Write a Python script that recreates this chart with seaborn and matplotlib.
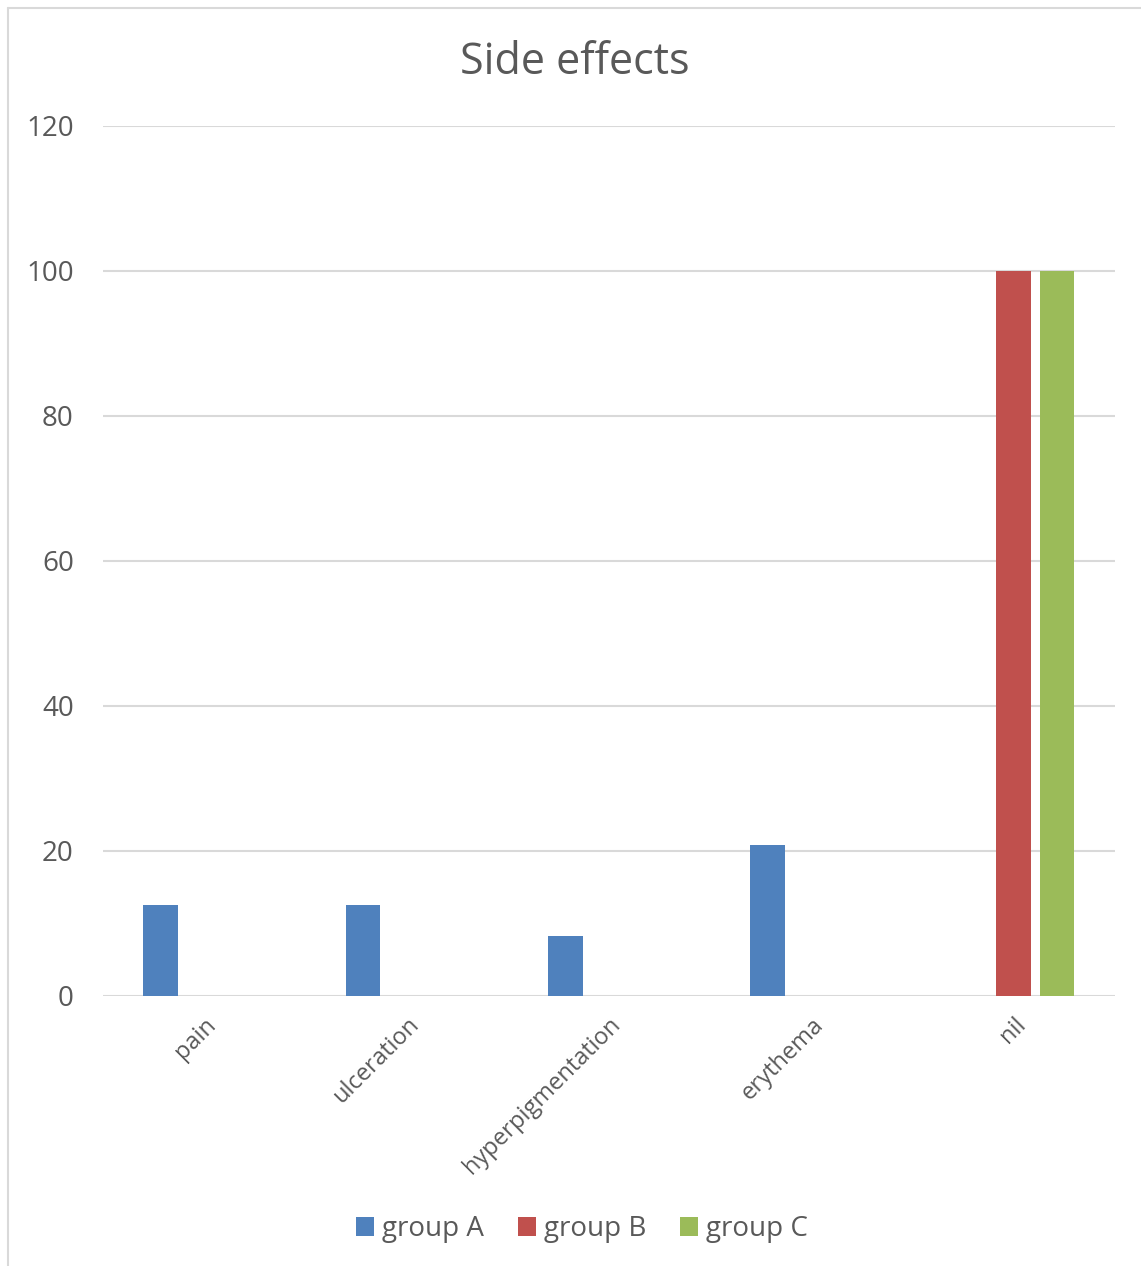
import matplotlib
matplotlib.use("Agg")
import matplotlib.pyplot as plt
from matplotlib.lines import Line2D
import seaborn as sns
import pandas as pd

categories = ["pain", "ulceration", "hyperpigmentation", "erythema", "nil"]
groups = ["group A", "group B", "group C"]
group_a = [12.5, 12.5, 8.33, 20.83, 0]
group_b = [0, 0, 0, 0, 100]
group_c = [0, 0, 0, 0, 100]
y_ticks = [0, 20, 40, 60, 80, 100, 120]
colors = ["#4f81bd", "#c0504d", "#9bbb59"]

rows = []
for g, vals in zip(groups, [group_a, group_b, group_c]):
    for c, v in zip(categories, vals):
        rows.append({"category": c, "group": g, "value": v})
df = pd.DataFrame(rows)

sns.set_theme(style="white")
plt.rcParams["font.family"] = ["Open Sans", "DejaVu Sans"]
text_color = "#595959"
grid_color = "#d9d9d9"

fig = plt.figure(figsize=(11.41, 12.66), dpi=100)
ax = fig.add_axes([0.0903, 0.2133, 0.8867, 0.6872])

sns.barplot(data=df, x="category", y="value", hue="group", order=categories,
            hue_order=groups, palette=colors, saturation=1, width=0.645, gap=0.2,
            linewidth=0, errorbar=None, ax=ax, legend=True)

ax.set_ylim(0, 120)
ax.set_xlim(-0.5, len(categories) - 0.5)
ax.set_yticks(y_ticks)
ax.set_yticklabels([str(t) for t in y_ticks], fontsize=20, color=text_color)
ax.tick_params(axis="y", length=0, pad=21)
ax.tick_params(axis="x", length=0, pad=12)
for lab in ax.get_xticklabels():
    lab.set_rotation(45)
    lab.set_ha("right")
    lab.set_rotation_mode("anchor")
    lab.set_fontsize(17)
    lab.set_color(text_color)
ax.set_xlabel("")
ax.set_ylabel("")
for s in ax.spines.values():
    s.set_visible(False)
ax.yaxis.grid(True, color=grid_color, linewidth=1.5)
ax.set_axisbelow(True)

fig.suptitle("Side effects", x=0.504, y=0.968, fontsize=31, color=text_color)

handles, labels = ax.get_legend_handles_labels()
ax.get_legend().remove()
fig.legend(handles, labels, loc="center", bbox_to_anchor=(0.51, 0.029), ncol=3,
           frameon=False, fontsize=20, labelcolor=text_color, handlelength=0.65,
           handleheight=0.65, handletextpad=0.3, columnspacing=1.2)

# chart area border (left and top edges)
fig.add_artist(Line2D([8 / 1141, 8 / 1141], [0, 1 - 8 / 1266], color=grid_color,
                      linewidth=1.5, transform=fig.transFigure))
fig.add_artist(Line2D([8 / 1141, 1], [1 - 8 / 1266, 1 - 8 / 1266], color=grid_color,
                      linewidth=1.5, transform=fig.transFigure))

fig.savefig("out.png", dpi=100, facecolor="white")
